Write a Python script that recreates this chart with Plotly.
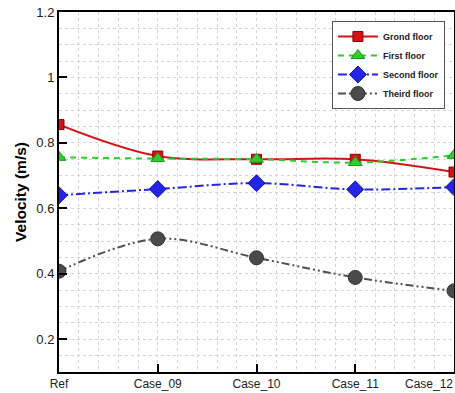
import plotly.graph_objects as go

categories = ["Ref", "Case_09", "Case_10", "Case_11", "Case_12"]
x_pos = [0, 1, 2, 3, 4]
ground = [0.856, 0.760, 0.750, 0.750, 0.711]
first = [0.756, 0.752, 0.750, 0.740, 0.762]
second = [0.640, 0.659, 0.677, 0.658, 0.665]
third = [0.408, 0.507, 0.449, 0.389, 0.348]

fig = go.Figure()
fig.add_trace(go.Scatter(x=x_pos, y=ground, name="Grond floor", mode="lines+markers",
                         line=dict(color="#d41414", width=2, shape="spline", smoothing=1),
                         marker=dict(symbol="square", size=10, color="#d41414",
                                     line=dict(color="#8a0000", width=1))))
fig.add_trace(go.Scatter(x=x_pos, y=first, name="First floor", mode="lines+markers",
                         line=dict(color="#2ecc2e", width=2, dash="6px,5px", shape="spline", smoothing=1),
                         marker=dict(symbol="triangle-up", size=12, color="#2ecc2e",
                                     line=dict(color="#1a991a", width=1))))
fig.add_trace(go.Scatter(x=x_pos, y=second, name="Second floor", mode="lines+markers",
                         line=dict(color="#2424e8", width=2, dash="9px,3px,2px,3px", shape="spline", smoothing=1),
                         marker=dict(symbol="diamond", size=13, color="#2424e8",
                                     line=dict(color="#1010a0", width=1))))
fig.add_trace(go.Scatter(x=x_pos, y=third, name="Theird floor", mode="lines+markers",
                         line=dict(color="#505050", width=2, dash="8px,3px,2px,3px,2px,3px", shape="spline", smoothing=1),
                         marker=dict(symbol="circle", size=14, color="#4a4a4a",
                                     line=dict(color="#333333", width=1))))

# last category label is right-aligned at the plot edge (as in the reference)
tick_text = categories[:-1] + [""]
fig.add_annotation(x=x_pos[-1], y=0, xref="x", yref="paper", text=categories[-1],
                   xanchor="right", yanchor="top", showarrow=False, yshift=-3, xshift=1,
                   font=dict(size=12, color="#222222", family="Liberation Sans, Arial, sans-serif"))

grid_col = "#d4d4d4"
fig.update_layout(
    width=455, height=393,
    margin=dict(l=59, r=1, t=12, b=21),
    plot_bgcolor="white", paper_bgcolor="white",
    font=dict(family="Liberation Sans, Arial, sans-serif", color="#222222"),
    showlegend=True,
    legend=dict(x=0.977, y=0.975, xanchor="right", yanchor="top",
                bgcolor="white", bordercolor="#555555", borderwidth=1,
                font=dict(size=9, family="Liberation Sans, Arial", color="#222222", weight="bold"),
                itemwidth=40, tracegroupgap=0),
    xaxis=dict(range=[0, 4], tickvals=x_pos, ticktext=tick_text,
               ticks="inside", ticklen=8, tickwidth=2, tickcolor="black",
               automargin=False,
               showline=True, linecolor="black", linewidth=2, mirror=True,
               showgrid=True, gridcolor=grid_col, griddash="dot", gridwidth=1,
               minor=dict(dtick=0.2, tick0=0, showgrid=True, gridcolor=grid_col, griddash="dot", gridwidth=1),
               tickfont=dict(size=12, color="#222222"), zeroline=False),
    yaxis=dict(range=[0.1, 1.2], tickvals=[0.2, 0.4, 0.6, 0.8, 1.0, 1.2],
               ticktext=["0.2", "0.4", "0.6", "0.8", "1", "1.2"],
               ticks="inside", ticklen=8, tickwidth=2, tickcolor="black",
               showline=True, linecolor="black", linewidth=2, mirror=True,
               showgrid=True, gridcolor=grid_col, griddash="dot", gridwidth=1,
               minor=dict(dtick=0.05, tick0=0, showgrid=True, gridcolor=grid_col, griddash="dot", gridwidth=1),
               tickfont=dict(size=13, color="#222222"), zeroline=False, automargin=False,
               title=dict(text="<b>Velocity (m/s)</b>", font=dict(size=15.5, color="black"), standoff=6)),
)

fig.write_html("out.html")
